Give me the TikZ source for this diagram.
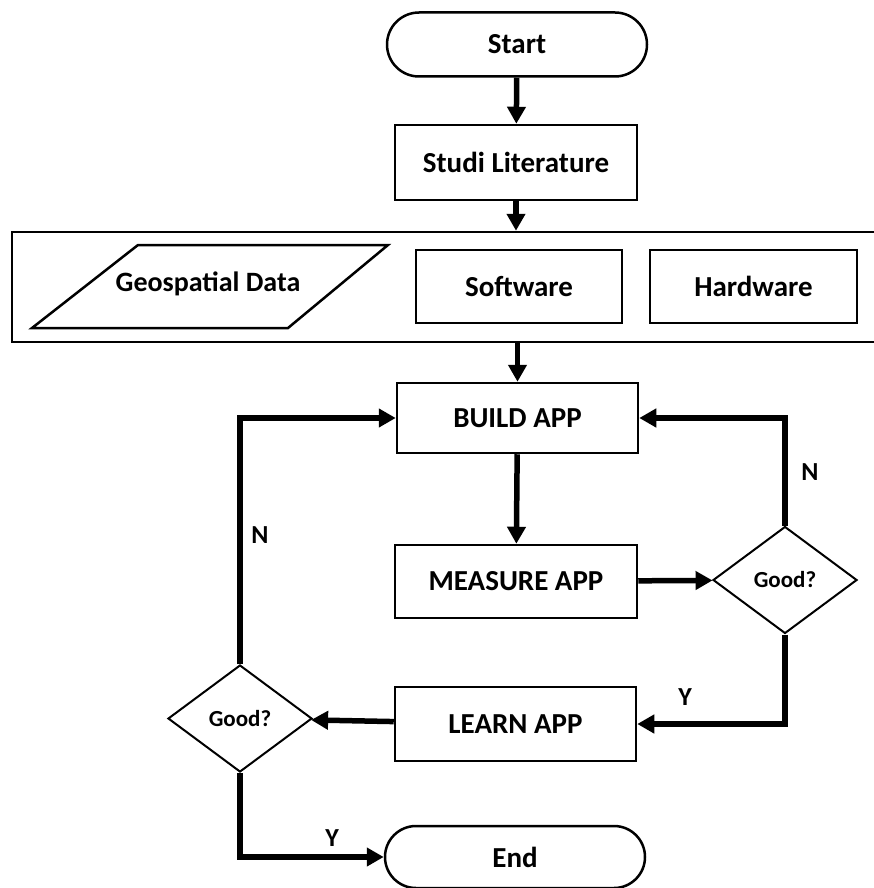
\documentclass[tikz,border=0pt]{standalone}
\usepackage{fontspec}
\setmainfont{Carlito}
\usetikzlibrary{arrows.meta,shapes.geometric,shapes.misc}

\begin{document}
\begin{tikzpicture}[x=1pt,y=-1pt,
  box/.style={draw, line width=2.5pt, rectangle, inner sep=0pt, font=\fontsize{29}{34}\selectfont\bfseries},
  term/.style={draw, line width=2.5pt, rounded rectangle, inner sep=0pt, minimum width=260pt, minimum height=64pt, font=\fontsize{29}{34}\selectfont\bfseries},
  decision/.style={draw, line width=2pt, diamond, inner sep=0pt, minimum width=144pt, minimum height=107pt, font=\fontsize{23}{27}\selectfont\bfseries},
  flow/.style={line width=5.5pt, -{Triangle[length=17pt,width=18pt]}},
  lbl/.style={font=\fontsize{26}{30}\selectfont\bfseries}]
\fill[white] (0,0) rectangle (874,888);
\useasboundingbox (0,0) rectangle (874,888);

\node[box, minimum width=988pt, minimum height=110pt] (inputs) at (506,287) {};

\node[term] (start) at (517,44.5) {Start};
\node[box, minimum width=242pt, minimum height=75pt] (studi) at (516,162.5) {Studi Literature};

\draw[line width=2.5pt] (32,328) -- (288,328) -- (388,245) -- (138,245) -- cycle;
\node[font=\fontsize{28}{33}\selectfont\bfseries] (geo) at (208,284) {Geospatial Data};
\node[box, minimum width=206pt, minimum height=73pt] (soft) at (519,286.5) {Software};
\node[box, minimum width=207pt, minimum height=73pt] (hard) at (753.5,286.5) {Hardware};

\node[box, minimum width=241pt, minimum height=70pt] (build) at (517.5,418) {BUILD APP};
\node[box, minimum width=242pt, minimum height=73pt] (measure) at (516,581.5) {MEASURE APP};
\node[decision] (goodR) at (785,580) {Good?};
\node[box, minimum width=241pt, minimum height=74pt] (learn) at (515.5,724) {LEARN APP};
\node[decision] (goodL) at (240,718.5) {Good?};
\node[term, minimum height=62pt] (end) at (515,857) {End};

\node[lbl] (nR) at (810,472) {N};
\node[lbl] (yR) at (685,697) {Y};
\node[lbl] (nL) at (260,535) {N};
\node[lbl] (yL) at (332,838) {Y};

% main line
\draw[flow] (start) -- (studi);
\draw[flow] (studi.south) -- (studi.south |- inputs.north);
\draw[flow] (inputs.south -| build.north) -- (build.north);
\draw[flow] (build) -- (measure);
\draw[flow] (measure) -- (goodR);

% loops
\draw[flow] (goodR.north) |- (build.east);
\draw[flow] (goodR.south) |- (learn.east);
\draw[flow] (learn) -- (goodL);
\draw[flow] (goodL.north) |- (build.west);
\draw[flow] (goodL.south) |- (end.west);
\end{tikzpicture}
\end{document}
